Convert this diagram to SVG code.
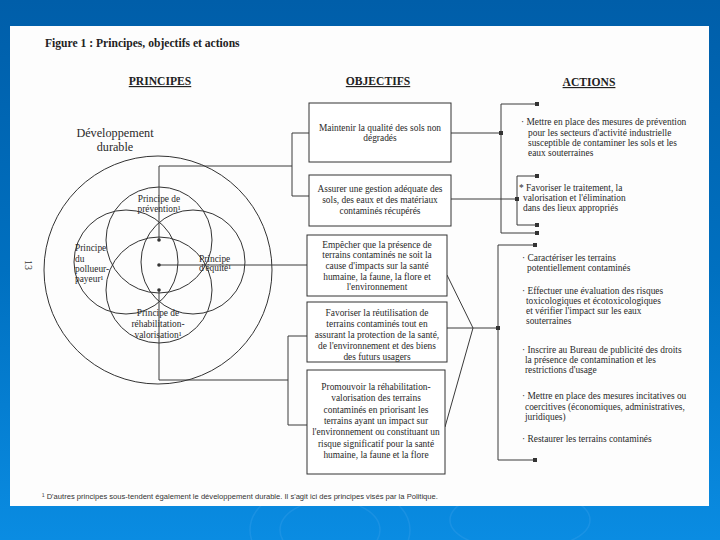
<svg xmlns="http://www.w3.org/2000/svg" width="720" height="540" viewBox="0 0 720 540">
<defs>
<linearGradient id="bg" x1="0" y1="0" x2="0" y2="1">
<stop offset="0" stop-color="#005ea9"/>
<stop offset="0.5" stop-color="#0070c0"/>
<stop offset="1" stop-color="#0a8ce2"/>
</linearGradient>
<style>
.t{font-family:"Liberation Serif","Times New Roman",serif;font-size:9.4px;fill:#2a2a2a}
.c{text-anchor:middle}
.big{font-size:12.2px}
.h{font-family:"Liberation Serif","Times New Roman",serif;font-size:11.6px;font-weight:bold;fill:#222;text-anchor:middle;text-decoration:underline}
.box{fill:#fff;stroke:#333;stroke-width:1}
.ln{fill:none;stroke:#3a3a3a;stroke-width:1}
.cir{fill:none;stroke:#333;stroke-width:1}
.sq{fill:#333}
</style>
</defs>
<rect x="0" y="0" width="720" height="540" fill="url(#bg)"/>
<g fill="none" stroke="#3aa0ea" stroke-width="1.5" opacity="0.35">
<ellipse cx="330" cy="530" rx="50" ry="30"/>
<ellipse cx="330" cy="530" rx="80" ry="48"/>
<ellipse cx="520" cy="520" rx="70" ry="30"/>
</g>
<rect x="10" y="26" width="699" height="480" fill="#fdfdfd"/>

<text x="45" y="47" font-family="Liberation Serif, Times New Roman, serif" font-size="11.6" font-weight="bold" fill="#222">Figure 1 : Principes, objectifs et actions</text>
<text class="h" x="160" y="85">PRINCIPES</text>
<text class="h" x="378" y="85">OBJECTIFS</text>
<text class="h" x="589" y="86">ACTIONS</text>

<text x="25" y="265" font-family="Liberation Serif, serif" font-size="10" fill="#333" text-anchor="middle" transform="rotate(90 25 265)">13</text>

<g id="principes">
<text class="t c big" x="115" y="137">Développement</text>
<text class="t c big" x="115" y="151">durable</text>
<circle class="cir" cx="158" cy="270" r="114"/>
<circle class="cir" cx="159" cy="240" r="53"/>
<circle class="cir" cx="159" cy="290" r="53"/>
<circle class="cir" cx="126" cy="262" r="52"/>
<circle class="cir" cx="193" cy="262" r="52"/>
<circle class="sq" cx="159" cy="240" r="1.8"/>
<circle class="sq" cx="159" cy="265" r="1.8"/>
<circle class="sq" cx="159" cy="290" r="1.8"/>
</g>
<g id="p-prevention">
<text class="t c" x="159" y="202">Principe de</text>
<text class="t c" x="159" y="212">prévention¹</text>
</g>
<g id="p-pollueur">
<text class="t" x="75" y="251">Principe</text>
<text class="t" x="75" y="262">du</text>
<text class="t" x="75" y="272">pollueur-</text>
<text class="t" x="75" y="282">payeur¹</text>
</g>
<g id="p-equite">
<text class="t" x="199" y="262">Principe</text>
<text class="t" x="199" y="271">d'équité¹</text>
</g>
<g id="p-rehab">
<text class="t c" x="158" y="316">Principe de</text>
<text class="t c" x="158" y="327">réhabilitation-</text>
<text class="t c" x="158" y="338">valorisation¹</text>
</g>

<g id="connectors">
<polyline class="ln" points="159,240 159,166 292,166"/>
<polyline class="ln" points="309,133 292,133 292,196 309,196"/>
<line class="ln" x1="159" y1="265" x2="307" y2="265"/>
<polyline class="ln" points="159,290 159,380 288,380"/>
<polyline class="ln" points="307,336 288,336 288,425 307,425"/>

<line class="ln" x1="451" y1="133" x2="501" y2="133"/>
<polyline class="ln" points="537,104 501,104 501,233 537,233"/>
<line class="ln" x1="451" y1="199" x2="517" y2="199" stroke="#666"/>
<polyline class="ln" points="537,176 517,176 517,225 537,225"/>
<polyline class="ln" points="447,275 473,328 445,427"/>
<line class="ln" x1="447" y1="328" x2="498" y2="328"/>
<polyline class="ln" points="535,245 498,245 498,460 535,460"/>

<rect class="sq" x="535" y="102" width="4" height="4"/>
<rect class="sq" x="535" y="231" width="4" height="4"/>
<rect class="sq" x="499" y="131" width="4" height="4"/>
<rect class="sq" x="535" y="174" width="4" height="4"/>
<rect class="sq" x="535" y="223" width="4" height="4"/>
<rect class="sq" x="515" y="197" width="4" height="4"/>
<rect class="sq" x="533" y="243" width="4" height="4"/>
<rect class="sq" x="533" y="458" width="4" height="4"/>
<rect class="sq" x="496" y="326" width="4" height="4"/>
</g>

<g id="obj1">
<rect class="box" x="309" y="103" width="142" height="59" stroke-width="1.3"/>
<text class="t c" x="380" y="131">Maintenir la qualité des sols non</text>
<text class="t c" x="380" y="141">dégradés</text>
</g>
<g id="obj2">
<rect class="box" x="309" y="175" width="142" height="51"/>
<text class="t c" x="380" y="192">Assurer une gestion adéquate des</text>
<text class="t c" x="380" y="203">sols, des eaux et des matériaux</text>
<text class="t c" x="380" y="214">contaminés récupérés</text>
</g>
<g id="obj3">
<rect class="box" x="307" y="235" width="140" height="61"/>
<text class="t c" x="377" y="248">Empêcher que la présence de</text>
<text class="t c" x="377" y="258">terrains contaminés ne soit la</text>
<text class="t c" x="377" y="269">cause d'impacts sur la santé</text>
<text class="t c" x="377" y="280">humaine, la faune, la flore et</text>
<text class="t c" x="377" y="290">l'environnement</text>
</g>
<g id="obj4">
<rect class="box" x="307" y="302" width="140" height="60"/>
<text class="t c" x="377" y="316">Favoriser la réutilisation de</text>
<text class="t c" x="377" y="327">terrains contaminés tout en</text>
<text class="t c" x="377" y="338">assurant la protection de la santé,</text>
<text class="t c" x="377" y="349">de l'environnement et des biens</text>
<text class="t c" x="377" y="360">des futurs usagers</text>
</g>
<g id="obj5">
<rect class="box" x="307" y="370" width="138" height="104" stroke-width="1.3"/>
<text class="t c" x="376" y="390">Promouvoir la réhabilitation-</text>
<text class="t c" x="376" y="401">valorisation des terrains</text>
<text class="t c" x="376" y="413">contaminés en priorisant les</text>
<text class="t c" x="376" y="424">terrains ayant un impact sur</text>
<text class="t c" x="376" y="435">l'environnement ou constituant un</text>
<text class="t c" x="376" y="447">risque significatif pour la santé</text>
<text class="t c" x="376" y="458">humaine, la faune et la flore</text>
</g>

<g id="act1">
<text class="t" x="521" y="125">· Mettre en place des mesures de prévention</text>
<text class="t" x="528" y="136">pour les secteurs d'activité industrielle</text>
<text class="t" x="528" y="146">susceptible de contaminer les sols et les</text>
<text class="t" x="528" y="156">eaux souterraines</text>
</g>
<g id="act2">
<text class="t" x="519" y="191">* Favoriser le traitement, la</text>
<text class="t" x="523" y="201">valorisation et l'élimination</text>
<text class="t" x="523" y="211">dans des lieux appropriés</text>
</g>
<g id="act3">
<text class="t" x="522" y="261">· Caractériser les terrains</text>
<text class="t" x="527" y="271">potentiellement contaminés</text>
</g>
<g id="act4">
<text class="t" x="522" y="294">· Effectuer une évaluation des risques</text>
<text class="t" x="526" y="304">toxicologiques et écotoxicologiques</text>
<text class="t" x="526" y="314">et vérifier l'impact sur les eaux</text>
<text class="t" x="526" y="324">souterraines</text>
</g>
<g id="act5">
<text class="t" x="522" y="353">· Inscrire au Bureau de publicité des droits</text>
<text class="t" x="525" y="363">la présence de contamination et les</text>
<text class="t" x="525" y="373">restrictions d'usage</text>
</g>
<g id="act6">
<text class="t" x="522" y="399">· Mettre en place des mesures incitatives ou</text>
<text class="t" x="525" y="410">coercitives (économiques, administratives,</text>
<text class="t" x="525" y="420">juridiques)</text>
</g>
<g id="act7">
<text class="t" x="522" y="442">· Restaurer les terrains contaminés</text>
</g>

<text x="42" y="499" font-family="Liberation Sans, Arial, sans-serif" font-size="7.6" fill="#333">¹ D'autres principes sous-tendent également le développement durable. Il s'agit ici des principes visés par la Politique.</text>
</svg>
